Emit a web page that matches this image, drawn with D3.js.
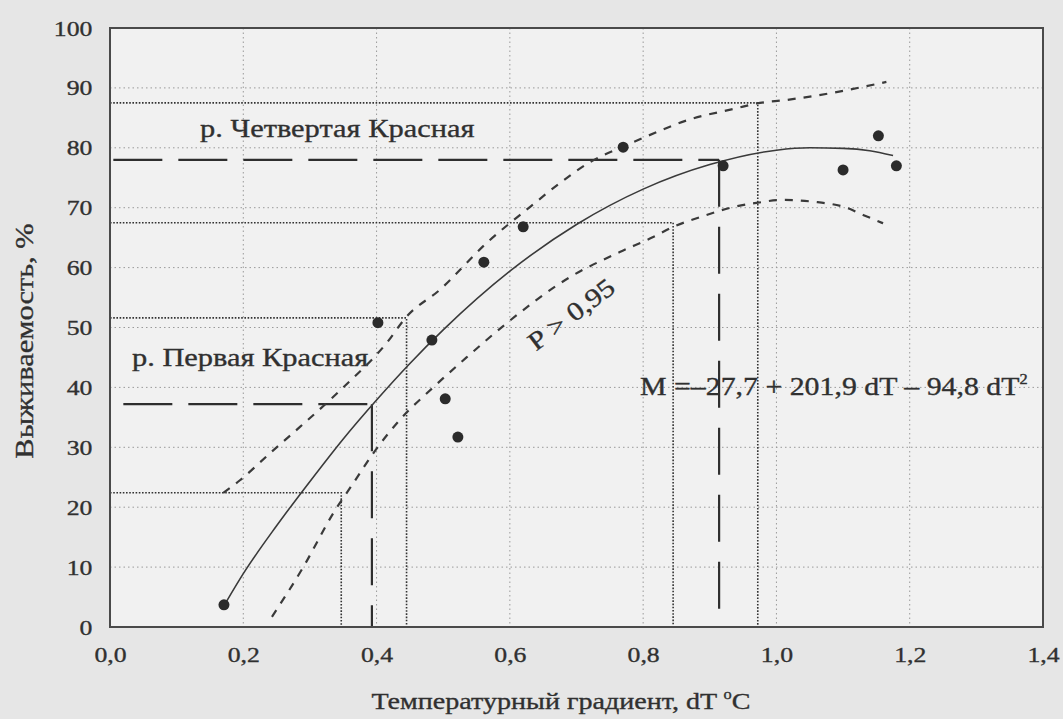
<!DOCTYPE html>
<html>
<head>
<meta charset="utf-8">
<script src="https://cdn.jsdelivr.net/npm/d3@7"></script>
<style>
  html, body { margin: 0; padding: 0; background: #e6e6e6; }
  svg { display: block; font-family: "Liberation Serif", "DejaVu Serif", serif; }
  svg text { stroke: #303030; stroke-width: 0.35px; }
  .tick text { fill: #303030; font-size: 22px; }
  .grid line { stroke: #9a9a9a; stroke-width: 1; stroke-dasharray: 1.5,3; }
</style>
</head>
<body>
<svg id="chart" width="1063" height="719"></svg>
<script>
// observed points (dT, survival %)
const pointsDT = [0.171, 0.402, 0.483, 0.503, 0.522, 0.561, 0.62, 0.77, 0.92, 1.10, 1.153, 1.18];
const pointsM  = [3.7, 50.8, 47.9, 38.1, 31.7, 60.9, 66.8, 80.1, 77.0, 76.3, 82.0, 77.0];

// fitted curve
const fitDT = [0.175, 0.2, 0.25, 0.3, 0.35, 0.4, 0.45, 0.5, 0.6, 0.7, 0.8, 0.9, 1.0, 1.05, 1.1, 1.14, 1.175];
const fitM  = [4.3, 8.9, 16.9, 24.3, 31.4, 37.9, 44.0, 49.6, 59.4, 67.2, 73.1, 77.2, 79.6, 80.0, 79.9, 79.5, 78.7];

// confidence band P > 0,95
const upperDT = [0.170, 0.195, 0.24, 0.285, 0.33, 0.35, 0.415, 0.445, 0.495, 0.565, 0.63, 0.675, 0.72, 0.77, 0.82, 0.866, 0.94, 0.97, 1.016, 1.085, 1.165];
const upperM  = [22.4, 24.5, 29.0, 33.4, 37.9, 40.0, 47.4, 51.8, 56.3, 64.1, 70.1, 74.1, 77.6, 80.2, 82.6, 84.6, 86.6, 87.4, 88.0, 89.2, 91.0];
const lowerDT = [0.243, 0.29, 0.335, 0.365, 0.395, 0.435, 0.485, 0.535, 0.595, 0.69, 0.765, 0.815, 0.845, 0.885, 0.935, 0.97, 1.01, 1.055, 1.105, 1.13, 1.16];
const lowerM  = [1.7, 10.0, 19.0, 24.0, 29.0, 34.6, 40.0, 45.0, 50.7, 58.4, 62.6, 65.1, 66.8, 68.4, 70.1, 70.8, 71.3, 71.0, 70.0, 68.8, 67.4];

// river readings (long dashes) and their limits (dotted)
const riverNames = ["р. Первая Красная", "р. Четвертая Красная"];
const riverDT = [0.393, 0.914];
const riverM  = [37.2, 78.0];
const riverStartDT = [0.02, 0.005];
const limDT = [0.347, 0.445, 0.845, 0.972];
const limM  = [22.4, 51.6, 67.5, 87.5];

const xTicks = [0, 0.2, 0.4, 0.6, 0.8, 1.0, 1.2, 1.4];
const yTicks = [0, 10, 20, 30, 40, 50, 60, 70, 80, 90, 100];

const svg = d3.select('#chart');
const pLeft = 110, pRight = 1043, pTop = 28, pBottom = 627;
const ink = '#303030';
const sx = 1.17; // the scanned type is wider than Liberation Serif

const x = d3.scaleLinear().domain([0, 1.4]).range([pLeft, pRight]);
const y = d3.scaleLinear().domain([0, 100]).range([pBottom, pTop]);
const ru = d3.formatLocale({decimal: ',', thousands: ' ', grouping: [3], currency: ['', '']});
const fmt = ru.format('.1f');

svg.append('rect').attr('x', pLeft).attr('y', pTop).attr('width', pRight - pLeft).attr('height', pBottom - pTop).attr('fill', '#f1f1f1');

// grid
svg.append('g').attr('class', 'grid').selectAll('line').data(xTicks.slice(1, -1)).enter().append('line')
  .attr('x1', d => x(d)).attr('x2', d => x(d)).attr('y1', pTop).attr('y2', pBottom);
svg.append('g').attr('class', 'grid').selectAll('line').data(yTicks.slice(1, -1)).enter().append('line')
  .attr('x1', pLeft).attr('x2', pRight).attr('y1', d => y(d)).attr('y2', d => y(d));

// axes
const xAxis = d3.axisBottom(x).tickValues(xTicks).tickSize(0).tickPadding(19).tickFormat(fmt);
const yAxis = d3.axisLeft(y).tickValues(yTicks).tickSize(0).tickPadding(15);
svg.append('g').attr('transform', 'translate(0,' + pBottom + ')').call(xAxis).call(g => g.select('.domain').remove());
svg.append('g').attr('transform', 'translate(' + pLeft + ',0)').call(yAxis).call(g => g.select('.domain').remove());
svg.selectAll('.tick text').attr('font-family', '"Liberation Serif", serif').attr('transform', 'scale(' + sx + ',1)');

// dotted limit lines
const lim = svg.append('g').attr('stroke', '#333').attr('stroke-width', 1.6).attr('stroke-dasharray', '1.6,1.6').attr('fill', 'none');
limDT.forEach((d, i) => {
  lim.append('path').attr('d', d3.line()([[x(0), y(limM[i])], [x(d), y(limM[i])], [x(d), y(0)]]));
});

// long dashed readings
const rd = svg.append('g').attr('stroke', '#2e2e2e').attr('stroke-width', 2.2).attr('fill', 'none');
riverDT.forEach((d, i) => {
  rd.append('line').attr('x1', x(riverStartDT[i])).attr('x2', x(d)).attr('y1', y(riverM[i])).attr('y2', y(riverM[i]))
    .attr('stroke-dasharray', '49,16');
  rd.append('line').attr('x1', x(d)).attr('x2', x(d)).attr('y1', y(riverM[i])).attr('y2', y(0))
    .attr('stroke-dasharray', '47,20');
});

// band curves
const line = d3.line().curve(d3.curveMonotoneX).x(d => x(d[0])).y(d => y(d[1]));
svg.append('path').datum(upperDT.map((d, i) => [d, upperM[i]])).attr('d', line)
  .attr('fill', 'none').attr('stroke', '#3a3a3a').attr('stroke-width', 2.2).attr('stroke-dasharray', '8,8');
svg.append('path').datum(lowerDT.map((d, i) => [d, lowerM[i]])).attr('d', line)
  .attr('fill', 'none').attr('stroke', '#3a3a3a').attr('stroke-width', 2.2).attr('stroke-dasharray', '8,8');

// fitted curve
svg.append('path').datum(fitDT.map((d, i) => [d, fitM[i]])).attr('d', line)
  .attr('fill', 'none').attr('stroke', '#3a3a3a').attr('stroke-width', 1.6);

// points
svg.append('g').selectAll('circle').data(pointsDT).enter().append('circle')
  .attr('cx', d => x(d)).attr('cy', (d, i) => y(pointsM[i])).attr('r', 5.5).attr('fill', '#2b2b2b');

// frame
svg.append('rect').attr('x', pLeft).attr('y', pTop).attr('width', pRight - pLeft).attr('height', pBottom - pTop)
  .attr('fill', 'none').attr('stroke', '#4a4a4a').attr('stroke-width', 2);

// text placed at (tx,ty), widened by sx, optional rotation
function label(tx, ty, size, rot) {
  return svg.append('text').attr('fill', ink).attr('font-size', size)
    .attr('transform', 'translate(' + tx + ',' + ty + ') rotate(' + (rot || 0) + ') scale(' + sx + ',1)');
}

label(200, 137, 26).text(riverNames[1]);
label(132, 366, 26).text(riverNames[0]);
label(571, 314, 26, -37).attr('text-anchor', 'middle').attr('dy', '0.35em').text('P > 0,95');
const eq = label(640, 395, 25.5);
eq.append('tspan').text('M =–27,7 + 201,9 dT – 94,8 dT');
eq.append('tspan').attr('font-size', 14).attr('dy', -11).text('2');

// axis titles
const xt = label(561, 709, 24).attr('text-anchor', 'middle');
xt.append('tspan').text('Температурный градиент, dT ');
xt.append('tspan').attr('font-size', 14).attr('dy', -10).text('o');
xt.append('tspan').attr('dy', 10).text('C');
label(33, 341, 26, -90).attr('text-anchor', 'middle').text('Выживаемость, %');
</script>
</body>
</html>
